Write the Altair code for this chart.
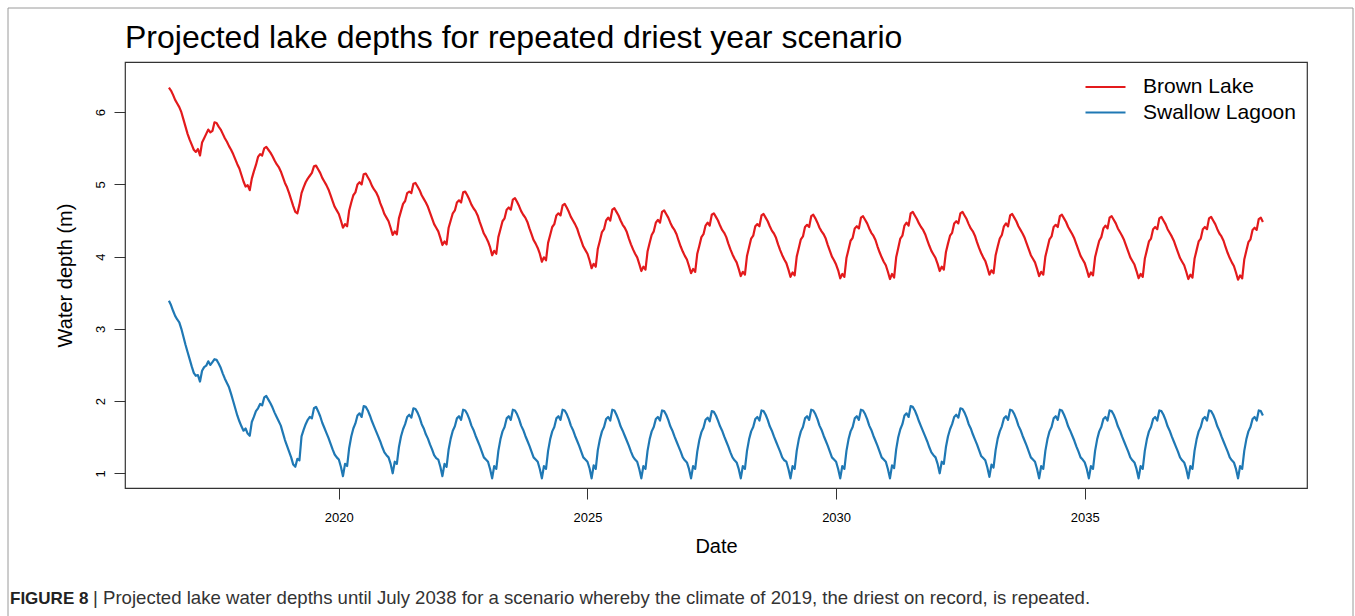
import altair as alt
import pandas as pd

title_text = "Projected lake depths for repeated driest year scenario"
caption_bold = "FIGURE 8"
caption_rest = "| Projected lake water depths until July 2038 for a scenario whereby the climate of 2019, the driest on record, is repeated."
series_names = ["Brown Lake", "Swallow Lagoon"]
series_colors = ["#E31A1C", "#1F78B4"]
x_ticks = [2020, 2025, 2030, 2035]
y_ticks = [1, 2, 3, 4, 5, 6]

# time grid: half-monthly samples starting mid-2016 (year + step/24)
start_year = 2016
start_step = 14
steps_per_year = 24

# Brown Lake water depth (m), one row per year
brown_lake = [
    6.34, 6.30, 6.24, 6.17, 6.12, 6.07, 6.00, 5.90, 5.80, 5.70,
    5.62, 5.55, 5.48, 5.45, 5.49, 5.40, 5.58, 5.64, 5.70, 5.76, 5.72, 5.74, 5.86, 5.85, 5.80, 5.76, 5.70, 5.64, 5.59, 5.53, 5.48, 5.42, 5.35, 5.28,
    5.22, 5.13, 5.04, 4.97, 4.99, 4.92, 5.08, 5.18, 5.27, 5.38, 5.42, 5.40, 5.50, 5.52, 5.48, 5.44, 5.39, 5.33, 5.28, 5.24, 5.18, 5.10, 5.02, 4.96,
    4.88, 4.79, 4.70, 4.62, 4.60, 4.72, 4.88, 4.96, 5.03, 5.08, 5.12, 5.16, 5.25, 5.26, 5.21, 5.16, 5.09, 5.04, 4.99, 4.93, 4.85, 4.77, 4.69, 4.64,
    4.59, 4.50, 4.40, 4.45, 4.42, 4.64, 4.75, 4.85, 4.89, 5.00, 5.03, 5.00, 5.14, 5.15, 5.10, 5.05, 4.98, 4.93, 4.89, 4.83, 4.74, 4.67, 4.59, 4.54,
    4.49, 4.40, 4.30, 4.35, 4.31, 4.53, 4.63, 4.73, 4.77, 4.88, 4.90, 4.88, 5.01, 5.02, 4.97, 4.92, 4.85, 4.80, 4.75, 4.69, 4.61, 4.53, 4.45, 4.40,
    4.35, 4.26, 4.16, 4.21, 4.17, 4.40, 4.50, 4.60, 4.64, 4.75, 4.78, 4.75, 4.89, 4.90, 4.85, 4.79, 4.72, 4.67, 4.63, 4.57, 4.48, 4.40, 4.32, 4.27,
    4.21, 4.13, 4.02, 4.08, 4.04, 4.27, 4.38, 4.49, 4.53, 4.65, 4.68, 4.65, 4.79, 4.81, 4.76, 4.70, 4.63, 4.58, 4.54, 4.48, 4.39, 4.31, 4.23, 4.18,
    4.12, 4.04, 3.93, 3.99, 3.95, 4.19, 4.30, 4.41, 4.45, 4.57, 4.60, 4.57, 4.71, 4.73, 4.68, 4.62, 4.55, 4.50, 4.45, 4.39, 4.30, 4.22, 4.14, 4.09,
    4.04, 3.95, 3.84, 3.90, 3.86, 4.11, 4.22, 4.34, 4.38, 4.50, 4.54, 4.50, 4.65, 4.67, 4.62, 4.57, 4.50, 4.44, 4.40, 4.34, 4.25, 4.17, 4.10, 4.04,
    3.99, 3.90, 3.80, 3.86, 3.82, 4.07, 4.19, 4.30, 4.35, 4.47, 4.51, 4.47, 4.62, 4.64, 4.59, 4.54, 4.47, 4.41, 4.37, 4.31, 4.22, 4.14, 4.07, 4.01,
    3.96, 3.87, 3.77, 3.83, 3.79, 4.04, 4.15, 4.27, 4.31, 4.43, 4.47, 4.43, 4.58, 4.60, 4.55, 4.50, 4.43, 4.37, 4.33, 4.27, 4.18, 4.10, 4.03, 3.97,
    3.92, 3.83, 3.73, 3.79, 3.75, 4.01, 4.13, 4.25, 4.29, 4.42, 4.45, 4.42, 4.57, 4.59, 4.54, 4.49, 4.42, 4.36, 4.32, 4.26, 4.17, 4.09, 4.02, 3.96,
    3.91, 3.82, 3.72, 3.78, 3.74, 4.00, 4.12, 4.24, 4.28, 4.41, 4.44, 4.41, 4.56, 4.58, 4.53, 4.47, 4.40, 4.35, 4.31, 4.25, 4.16, 4.08, 4.00, 3.95,
    3.89, 3.81, 3.70, 3.76, 3.72, 3.98, 4.10, 4.22, 4.26, 4.39, 4.42, 4.39, 4.54, 4.56, 4.51, 4.46, 4.39, 4.33, 4.29, 4.23, 4.14, 4.06, 3.99, 3.93,
    3.88, 3.79, 3.69, 3.76, 3.71, 3.99, 4.12, 4.25, 4.29, 4.43, 4.47, 4.43, 4.60, 4.62, 4.57, 4.52, 4.46, 4.41, 4.37, 4.31, 4.23, 4.15, 4.08, 4.03,
    3.98, 3.90, 3.80, 3.86, 3.82, 4.06, 4.18, 4.29, 4.33, 4.46, 4.49, 4.46, 4.60, 4.62, 4.57, 4.52, 4.45, 4.39, 4.35, 4.29, 4.20, 4.12, 4.05, 3.99,
    3.94, 3.85, 3.75, 3.81, 3.77, 4.02, 4.14, 4.25, 4.30, 4.42, 4.46, 4.42, 4.57, 4.59, 4.54, 4.49, 4.42, 4.37, 4.32, 4.26, 4.18, 4.10, 4.02, 3.97,
    3.92, 3.83, 3.73, 3.79, 3.75, 4.00, 4.12, 4.24, 4.28, 4.41, 4.44, 4.41, 4.56, 4.58, 4.53, 4.48, 4.41, 4.36, 4.31, 4.25, 4.17, 4.09, 4.01, 3.96,
    3.91, 3.82, 3.72, 3.78, 3.74, 3.99, 4.11, 4.22, 4.27, 4.39, 4.43, 4.39, 4.54, 4.56, 4.51, 4.46, 4.39, 4.34, 4.29, 4.23, 4.15, 4.07, 3.99, 3.94,
    3.89, 3.80, 3.70, 3.76, 3.72, 3.97, 4.09, 4.21, 4.25, 4.38, 4.41, 4.38, 4.53, 4.55, 4.50, 4.45, 4.38, 4.33, 4.28, 4.22, 4.14, 4.06, 3.98, 3.93,
    3.88, 3.79, 3.69, 3.75, 3.71, 3.97, 4.09, 4.21, 4.25, 4.38, 4.41, 4.38, 4.53, 4.55, 4.50, 4.45, 4.38, 4.32, 4.28, 4.22, 4.13, 4.05, 3.98, 3.92,
    3.87, 3.78, 3.68, 3.74, 3.70, 3.96, 4.08, 4.20, 4.24, 4.37, 4.40, 4.37, 4.52, 4.54, 4.48,
]

# Swallow Lagoon water depth (m), one row per year
swallow_lagoon = [
    3.39, 3.33, 3.25, 3.18, 3.13, 3.09, 3.00, 2.89, 2.78, 2.68,
    2.58, 2.48, 2.39, 2.35, 2.36, 2.27, 2.42, 2.47, 2.49, 2.55, 2.50, 2.54, 2.58, 2.57, 2.52, 2.46, 2.38, 2.31, 2.25, 2.19, 2.10, 2.00, 1.90, 1.80,
    1.72, 1.65, 1.59, 1.62, 1.55, 1.52, 1.71, 1.78, 1.86, 1.90, 1.96, 1.94, 2.05, 2.07, 2.02, 1.97, 1.91, 1.84, 1.78, 1.72, 1.66, 1.56, 1.46, 1.38,
    1.30, 1.22, 1.12, 1.09, 1.20, 1.18, 1.51, 1.60, 1.68, 1.74, 1.78, 1.76, 1.90, 1.92, 1.86, 1.79, 1.70, 1.63, 1.56, 1.49, 1.41, 1.33, 1.26, 1.22,
    1.19, 1.09, 0.96, 1.13, 1.10, 1.35, 1.51, 1.62, 1.69, 1.80, 1.83, 1.78, 1.93, 1.92, 1.87, 1.80, 1.72, 1.65, 1.58, 1.51, 1.44, 1.36, 1.29, 1.25,
    1.22, 1.13, 1.00, 1.16, 1.13, 1.36, 1.51, 1.61, 1.68, 1.78, 1.81, 1.77, 1.90, 1.89, 1.84, 1.77, 1.68, 1.62, 1.54, 1.48, 1.40, 1.33, 1.25, 1.21,
    1.19, 1.09, 0.96, 1.13, 1.09, 1.33, 1.48, 1.59, 1.65, 1.76, 1.79, 1.74, 1.88, 1.87, 1.82, 1.75, 1.66, 1.60, 1.52, 1.45, 1.38, 1.30, 1.22, 1.19,
    1.16, 1.06, 0.93, 1.10, 1.06, 1.31, 1.47, 1.58, 1.64, 1.76, 1.79, 1.74, 1.88, 1.87, 1.82, 1.75, 1.66, 1.60, 1.52, 1.45, 1.38, 1.30, 1.22, 1.19,
    1.16, 1.06, 0.93, 1.10, 1.06, 1.31, 1.47, 1.58, 1.64, 1.76, 1.79, 1.74, 1.88, 1.87, 1.82, 1.75, 1.66, 1.60, 1.52, 1.45, 1.38, 1.30, 1.22, 1.19,
    1.16, 1.07, 0.93, 1.11, 1.06, 1.32, 1.47, 1.58, 1.64, 1.75, 1.78, 1.73, 1.88, 1.87, 1.81, 1.74, 1.65, 1.59, 1.52, 1.45, 1.38, 1.30, 1.23, 1.19,
    1.16, 1.06, 0.93, 1.10, 1.06, 1.31, 1.47, 1.58, 1.64, 1.75, 1.78, 1.73, 1.87, 1.86, 1.81, 1.74, 1.65, 1.59, 1.51, 1.44, 1.37, 1.30, 1.22, 1.18,
    1.15, 1.06, 0.93, 1.10, 1.06, 1.30, 1.46, 1.57, 1.63, 1.74, 1.77, 1.72, 1.86, 1.85, 1.80, 1.73, 1.65, 1.59, 1.51, 1.44, 1.37, 1.29, 1.22, 1.18,
    1.15, 1.06, 0.93, 1.10, 1.06, 1.31, 1.47, 1.58, 1.64, 1.75, 1.78, 1.73, 1.87, 1.86, 1.81, 1.74, 1.65, 1.59, 1.51, 1.44, 1.37, 1.30, 1.22, 1.18,
    1.16, 1.06, 0.93, 1.10, 1.06, 1.31, 1.47, 1.58, 1.64, 1.76, 1.79, 1.74, 1.88, 1.87, 1.82, 1.75, 1.66, 1.60, 1.52, 1.45, 1.38, 1.30, 1.22, 1.19,
    1.16, 1.06, 0.93, 1.10, 1.06, 1.31, 1.47, 1.58, 1.64, 1.76, 1.79, 1.74, 1.88, 1.87, 1.82, 1.75, 1.66, 1.60, 1.52, 1.45, 1.38, 1.30, 1.22, 1.19,
    1.16, 1.06, 0.93, 1.11, 1.07, 1.33, 1.50, 1.61, 1.68, 1.80, 1.83, 1.78, 1.93, 1.92, 1.87, 1.80, 1.72, 1.65, 1.58, 1.51, 1.44, 1.36, 1.29, 1.25,
    1.22, 1.13, 1.00, 1.16, 1.13, 1.36, 1.51, 1.61, 1.68, 1.78, 1.81, 1.77, 1.90, 1.89, 1.84, 1.77, 1.68, 1.62, 1.54, 1.47, 1.40, 1.32, 1.24, 1.21,
    1.18, 1.08, 0.95, 1.12, 1.08, 1.32, 1.48, 1.58, 1.65, 1.76, 1.79, 1.74, 1.88, 1.87, 1.82, 1.75, 1.66, 1.60, 1.52, 1.45, 1.38, 1.30, 1.22, 1.19,
    1.16, 1.06, 0.93, 1.10, 1.06, 1.31, 1.47, 1.58, 1.64, 1.76, 1.79, 1.74, 1.88, 1.87, 1.81, 1.74, 1.65, 1.59, 1.52, 1.45, 1.37, 1.30, 1.22, 1.19,
    1.15, 1.06, 0.93, 1.10, 1.06, 1.31, 1.47, 1.58, 1.64, 1.75, 1.78, 1.73, 1.87, 1.86, 1.81, 1.74, 1.65, 1.59, 1.51, 1.44, 1.37, 1.30, 1.22, 1.18,
    1.15, 1.06, 0.93, 1.10, 1.06, 1.31, 1.47, 1.58, 1.64, 1.75, 1.78, 1.73, 1.87, 1.86, 1.81, 1.74, 1.65, 1.59, 1.51, 1.44, 1.37, 1.30, 1.22, 1.18,
    1.15, 1.06, 0.93, 1.10, 1.06, 1.31, 1.47, 1.58, 1.64, 1.75, 1.78, 1.73, 1.87, 1.86, 1.81, 1.74, 1.65, 1.59, 1.51, 1.44, 1.37, 1.30, 1.22, 1.18,
    1.15, 1.06, 0.93, 1.10, 1.06, 1.31, 1.47, 1.58, 1.64, 1.75, 1.78, 1.73, 1.87, 1.86, 1.80,
]

rows = []
for name, vals in zip(series_names, [brown_lake, swallow_lagoon]):
    for i, v in enumerate(vals):
        rows.append({"t": start_year + (start_step + i) / steps_per_year, "depth": v, "lake": name})
df = pd.DataFrame(rows)

FONT = "Liberation Sans"
W, H = 1182, 426

lines = alt.Chart(df).mark_line(strokeWidth=2.2, strokeJoin="round").encode(
    x=alt.X("t:Q",
            scale=alt.Scale(domain=[2015.70, 2039.47], nice=False, zero=False),
            axis=alt.Axis(values=x_ticks, format="d", title="Date",
                          labelPadding=12, titlePadding=12)),
    y=alt.Y("depth:Q",
            scale=alt.Scale(domain=[0.796, 6.695], nice=False, zero=False),
            axis=alt.Axis(values=y_ticks, format="d", title="Water depth (m)",
                          labelAngle=270, labelAlign="center", labelBaseline="alphabetic",
                          labelPadding=10, titlePadding=19)),
    color=alt.Color("lake:N",
                    scale=alt.Scale(domain=series_names, range=series_colors),
                    legend=alt.Legend(title=None, orient="none", legendX=969, legendY=13.5,
                                      symbolType="M-2,0H2", symbolSize=400,
                                      symbolStrokeWidth=2.2, labelFontSize=21,
                                      labelFont=FONT, labelColor="#000000",
                                      labelOffset=26, rowPadding=3.5, padding=0)),
)

one = pd.DataFrame({"a": [0]})

border = alt.Chart(one).mark_rect(fill="transparent", stroke="#9a9a9a", strokeWidth=1).encode(
    x=alt.value(-117), x2=alt.value(1228), y=alt.value(-54), y2=alt.value(570)
)

title_mark = alt.Chart(one).mark_text(text=title_text, font=FONT, fontSize=32,
                                      align="left", baseline="alphabetic", color="#000000").encode(
    x=alt.value(0), y=alt.value(-14)
)

cap1 = alt.Chart(one).mark_text(text=caption_bold, font=FONT, fontSize=17, fontWeight="bold",
                                align="left", baseline="alphabetic", color="#222222").encode(
    x=alt.value(-115), y=alt.value(542)
)
cap2 = alt.Chart(one).mark_text(text=caption_rest, font=FONT, fontSize=18.6,
                                align="left", baseline="alphabetic", color="#333333").encode(
    x=alt.value(-32), y=alt.value(542)
)

chart = alt.layer(border, lines, title_mark, cap1, cap2).properties(
    width=W, height=H,
    padding={"left": 125, "top": 62, "right": 48, "bottom": 128},
    autosize=alt.AutoSizeParams(type="none"),
).configure(
    background="white"
).configure_view(
    stroke="#333333", strokeWidth=1.2
).configure_axis(
    domain=False, grid=False, tickColor="#333333", tickSize=11, tickWidth=1,
    labelFont=FONT, labelFontSize=13, labelColor="#000000",
    titleFont=FONT, titleFontSize=20, titleFontWeight="normal", titleColor="#000000"
)

chart.save("out.html", embed_options={"renderer": "svg", "actions": False})
